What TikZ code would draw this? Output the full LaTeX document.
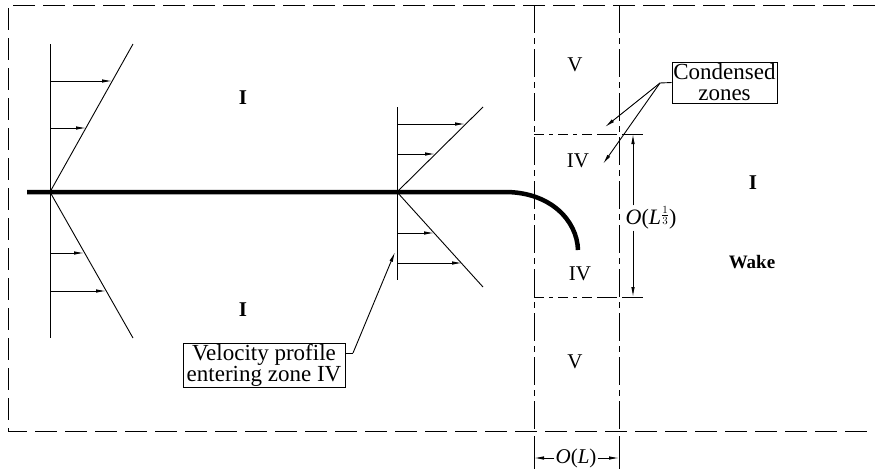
\documentclass[tikz,border=0pt]{standalone}
\usepackage{fontspec}
\setmainfont{Liberation Serif}
\usetikzlibrary{arrows.meta,calc}
\begin{document}
\begin{tikzpicture}[x=1pt,y=-1pt,
  thin line/.style={line width=0.9pt},
  tip/.style={-{Latex[length=10pt,width=3.5pt]}},
  outer dash/.style={line width=0.9pt,dash pattern=on 22pt off 8pt},
  zone dashdot/.style={line width=0.9pt,dash pattern=on 28pt off 5pt on 6pt off 5pt},
  zone hdash/.style={line width=0.9pt,dash pattern=on 10pt off 5pt on 4pt off 5pt},
  lbl/.style={font=\fontsize{21}{23}\selectfont,inner sep=1pt},
  biglbl/.style={font=\fontsize{21}{23}\selectfont\bfseries,inner sep=1pt},
  boxlbl/.style={draw,line width=0.8pt,font=\fontsize{23}{21}\selectfont,align=center,inner sep=1pt}]
\useasboundingbox (0,0) rectangle (875,469);

% outer dashed boundary
\draw[outer dash] (875,5) -- (8,5) -- (8,431) -- (875,431);

% zone boundaries
\draw[zone dashdot] (534,5) -- (534,431);
\draw[zone dashdot] (619,5) -- (619,431);
\draw[zone hdash] (534,134) -- (600,134);
\draw[zone hdash] (534,297) -- (600,297);
\draw[thin line] (600,134) -- (617,134);
\draw[thin line] (600,297) -- (617,297);
\draw[thin line] (622,134) -- (643,134);
\draw[thin line] (622,297) -- (643,297);
\draw[thin line] (534,436) -- (534,469);
\draw[thin line] (619,436) -- (619,469);

% plate
\draw[line width=4.5pt] (27,192) -- (505,192) .. controls (550,192) and (577,220) .. (578,250);

% first velocity profile
\draw[thin line] (50,44) -- (50,338);
\draw[thin line] (133,44) -- (50,192) -- (133,338);
\draw[thin line,tip] (50,81) -- (112,81);
\draw[thin line,tip] (50,128) -- (86,128);
\draw[thin line,tip] (50,253) -- (84,253);
\draw[thin line,tip] (50,291) -- (106,291);

% second velocity profile
\draw[thin line] (397,107) -- (397,280);
\draw[thin line] (483,107) -- (397,192) -- (483,287);
\draw[thin line,tip] (397,124) -- (465,124);
\draw[thin line,tip] (397,154) -- (435,154);
\draw[thin line,tip] (397,233) -- (434,233);
\draw[thin line,tip] (397,263) -- (462,263);

% zone labels
\node[biglbl] (i1) at (243,98) {I};
\node[biglbl] (i2) at (243,310) {I};
\node[lbl] (v1) at (575,65) {V};
\node[lbl] (iv1) at (578,161) {IV};
\node[lbl] (iv2) at (580,274) {IV};
\node[lbl] (v2) at (575,362) {V};
\node[biglbl] (i3) at (753,183) {I};
\node[lbl,font=\fontsize{19}{21}\selectfont\bfseries] (wake) at (752,262) {Wake};

% velocity profile callout
\node[boxlbl,minimum width=162pt,minimum height=44pt] (vp) at (264,365) {Velocity profile\\entering zone IV};
\coordinate (vpa) at (345,353);
\coordinate (vpb) at (353,353);
\coordinate (vpt) at (395,252);
\draw[thin line] (vpa) -- (vpb);
\draw[thin line,tip] (vpb) -- (vpt);

% condensed zones callout
\node[boxlbl,minimum width=105pt,minimum height=41pt] (cz) at (724.5,82.5) {Condensed\\zones};
\coordinate (czl) at (660,83);
\coordinate (czt1) at (605,127);
\coordinate (czt2) at (603,164);
\draw[thin line] (cz.west) -- (czl);
\draw[thin line,tip] (czl) -- (czt1);
\draw[thin line,tip] (czl) -- (czt2);

% dimension O(L^{1/3})
\node[lbl,font=\fontsize{22}{24}\selectfont] (dimL) at (651,218) {\textit{O}(\textit{L}\raisebox{0.55ex}{$\scriptstyle\frac{1}{3}$})};
\coordinate (dtop) at (633,134);
\coordinate (dbot) at (633,297);
\draw[thin line,tip] (dtop |- dimL.north) -- (dtop);
\draw[thin line,tip] (dbot |- dimL.south) -- (dbot);

% dimension O(L)
\node[lbl,font=\fontsize{21}{23}\selectfont] (dimOL) at (576,458) {\textit{O}(\textit{L})};
\coordinate (olL) at (534,458);
\coordinate (olR) at (619,458);
\draw[thin line,tip] (dimOL.west) -- (olL);
\draw[thin line,tip] (dimOL.east) -- (olR);
\end{tikzpicture}
\end{document}
